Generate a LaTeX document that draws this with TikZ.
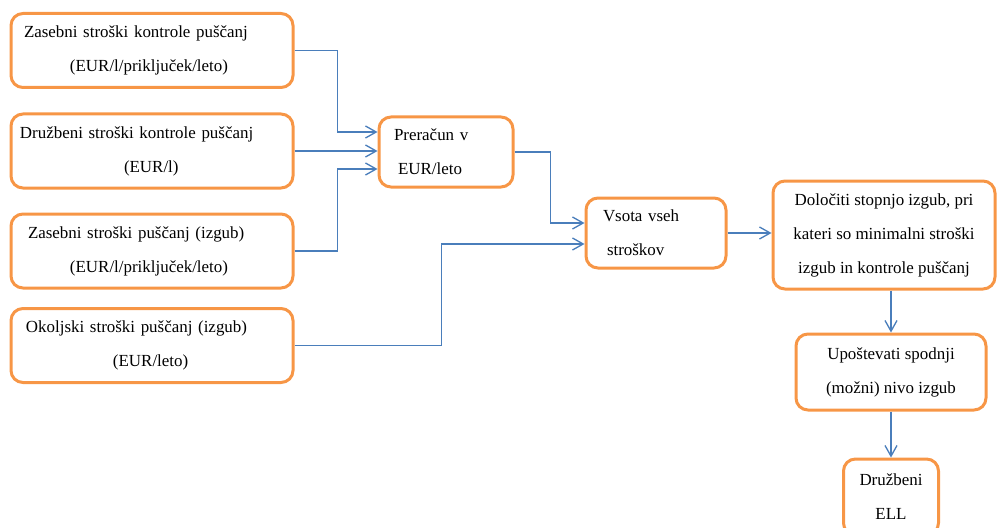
\documentclass[tikz,border=0pt]{standalone}
\usepackage{fontspec}
\setmainfont{Liberation Serif}
\usepackage{xcolor}
\usetikzlibrary{arrows.meta}

\newlength{\pxu}
\setlength{\pxu}{0.75pt}
\definecolor{boxorange}{RGB}{247,150,70}
\definecolor{linkblue}{RGB}{74,126,187}

\begin{document}
\begin{tikzpicture}[
x=\pxu, y=-\pxu,
box/.style={
	rectangle,
	rounded corners=9pt,
	draw=boxorange,
	line width=2.25pt,
	align=left,
	font=\fontsize{12.7}{25.5}\selectfont,
	minimum height=74\pxu
},
cbox/.style={
	box,
	align=center
},
arrow/.style={-{Straight Barb[length=8pt,width=9pt]}, draw=linkblue, line width=1pt}
]

\clip (0,0) rectangle (997,528);

% input cost boxes
\node[box, inner xsep=13\pxu, text width=256\pxu] (zkontrola) at (152,50.5) {
	Zasebni stroški kontrole puščanj\\
	\hspace*{46\pxu}(EUR/l/priključek/leto)
};

\node[box, inner xsep=9\pxu, text width=264\pxu] (dkontrola) at (152,151) {
	Družbeni stroški kontrole puščanj\\
	\hspace*{104\pxu}(EUR/l)
};

\node[box, inner xsep=17\pxu, text width=248\pxu] (zizgube) at (152,251) {
	Zasebni stroški puščanj (izgub)\\
	\hspace*{42\pxu}(EUR/l/priključek/leto)
};

\node[box, inner xsep=15\pxu, text width=252\pxu] (oizgube) at (152,345.5) {
	Okoljski stroški puščanj (izgub)\\
	\hspace*{87\pxu}(EUR/leto)
};

% processing steps
\node[box, inner xsep=15\pxu, text width=104\pxu, minimum height=70\pxu] (preracun) at (446,152) {
	Preračun v\\
	\hspace*{4\pxu}EUR/leto
};

\node[box, inner xsep=17\pxu, text width=106\pxu, minimum height=70\pxu] (vsota) at (656,233) {
	Vsota vseh\\
	\hspace*{4\pxu}stroškov
};

\node[cbox, minimum width=222\pxu, minimum height=108\pxu] (dolociti) at (884,235) {
	Določiti stopnjo izgub, pri\\
	kateri so minimalni stroški\\
	izgub in kontrole puščanj
};

\node[cbox, minimum width=190\pxu, minimum height=76\pxu] (upostevati) at (891,372) {
	Upoštevati spodnji\\
	(možni) nivo izgub
};

\node[cbox, minimum width=95\pxu, minimum height=76\pxu] (ell) at (891,497) {
	Družbeni\\
	ELL
};

\draw[arrow] (zkontrola.east) -- ++(43,0) |- ([yshift=20\pxu]preracun.west);
\draw[arrow] (dkontrola.east) -- (dkontrola.east -| preracun.west);
\draw[arrow] (zizgube.east) -- ++(43,0) |- ([yshift=-17\pxu]preracun.west);

\draw[arrow] (preracun.east) -- ++(36,0) |- ([yshift=10\pxu]vsota.west);
\draw[arrow] (oizgube.east) -- ++(147,0) |- ([yshift=-11\pxu]vsota.west);

\draw[arrow] (vsota.east) -- (vsota.east -| dolociti.west);
\draw[arrow] (upostevati.north |- dolociti.south) -- (upostevati.north);
\draw[arrow] (upostevati.south) -- (ell.north);

\end{tikzpicture}
\end{document}
